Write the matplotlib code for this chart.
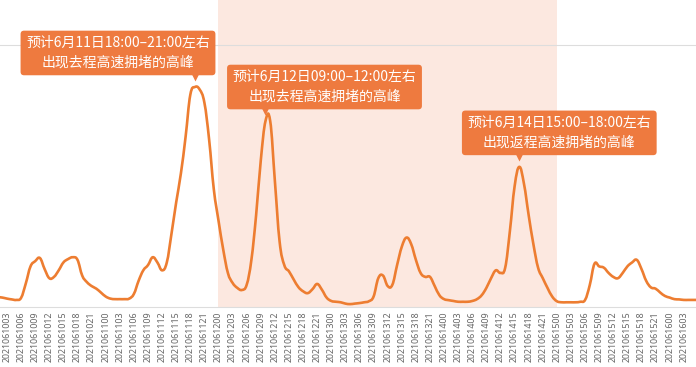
import numpy as np
import pandas as pd
import matplotlib
matplotlib.use('Agg')
import matplotlib.pyplot as plt
from matplotlib.path import Path
from matplotlib.patches import PathPatch
from matplotlib.transforms import offset_copy

plt.rcParams['font.family'] = ['Noto Sans CJK SC', 'DejaVu Sans']

# hourly traffic index, 2021-06-10 01:00 onwards
values = [
    3.8, 3.6, 3.2, 2.9, 2.7, 3.5, 9.0, 15.5, 17.5, 18.7,
    14.5, 11.0, 11.5, 14.0, 17.0, 18.3, 19.0, 18.0, 12.0, 9.5,
    8.0, 7.0, 5.5, 4.0, 3.2, 3.0, 3.0, 3.0, 3.2, 5.0,
    10.0, 14.0, 16.0, 19.0, 17.0, 14.0, 17.0, 28.0, 40.0, 51.0,
    65.0, 81.0, 84.0, 83.0, 78.0, 64.0, 45.0, 33.0, 22.0, 13.0,
    9.2, 7.3, 6.5, 8.5, 18.0, 35.0, 56.0, 71.0, 71.0, 48.0,
    25.0, 16.0, 13.6, 10.5, 7.6, 6.0, 5.3, 6.8, 8.8, 6.6,
    3.6, 2.3, 2.0, 1.8, 1.3, 1.1, 1.3, 1.5, 1.8, 2.2,
    4.0, 11.0, 12.0, 8.0, 8.5, 16.0, 23.0, 26.5, 24.0, 18.0,
    13.0, 11.5, 11.5, 8.0, 4.5, 3.0, 2.6, 2.3, 2.0, 2.0,
    2.0, 2.3, 3.0, 4.5, 7.3, 11.0, 14.0, 13.0, 15.0, 29.0,
    46.0, 53.5, 47.0, 35.0, 24.0, 15.0, 11.0, 7.3, 4.0, 2.2,
    1.8, 1.8, 1.8, 1.8, 2.0, 2.7, 8.4, 16.5, 15.5, 15.0,
    13.0, 11.5, 11.0, 13.0, 15.5, 17.0, 18.0, 14.5, 10.0, 7.5,
    7.0, 5.5, 4.2, 3.6, 3.0, 2.9, 2.7, 2.7, 2.7, 2.7,
]
times = pd.date_range('2021-06-10 01:00', periods=len(values), freq='h')
labels = times.strftime('%Y%m%d%H')

first_label = '2021061003'
last_label = '2021061603'
holiday_start = '2021061200'
holiday_end = '2021061500'

notes = [
    ('2021061119', '预计6月11日18:00–21:00左右\n出现去程高速拥堵的高峰', -77),
    ('2021061210', '预计6月12日09:00–12:00左右\n出现去程高速拥堵的高峰', 59),
    ('2021061416', '预计6月14日15:00–18:00左右\n出现返程高速拥堵的高峰', 40),
]

line_color = '#ED7D31'
box_color = '#EE7A3F'


def smooth_path(xs, ys, k=0.2):
    # bezier curve through the points (like a "smooth" line series)
    pts = np.column_stack([xs, ys]).astype(float)
    verts = [pts[0]]
    codes = [Path.MOVETO]
    n = len(pts)
    for i in range(n - 1):
        p0 = pts[max(i - 1, 0)]
        p1 = pts[i]
        p2 = pts[i + 1]
        p3 = pts[min(i + 2, n - 1)]
        c1 = p1 + (p2 - p0) * k
        c2 = p2 - (p3 - p1) * k
        verts += [c1, c2, p2]
        codes += [Path.CURVE4] * 3
    return Path(verts, codes)


fig = plt.figure(figsize=(6.96, 3.67), dpi=100)
ax = fig.add_axes([0, 60 / 367, 1, 307 / 367])

x = np.arange(len(values))
pos = {lab: i for i, lab in enumerate(labels)}

ax.axvspan(pos[holiday_start], pos[holiday_end], color='#FCE8E0', lw=0, zorder=0)
ax.axhline(100, color='#DDDDDD', lw=0.8, zorder=1)
ax.add_patch(PathPatch(smooth_path(x, values), fc='none', ec=line_color,
                       lw=1.9, joinstyle='round', zorder=3))

ax.set_xlim(0.51, 148.6)
ax.set_ylim(0, 117.2)

tick_idx = list(range(pos[first_label], pos[last_label] + 1, 3))
ax.set_xticks(tick_idx)
ax.set_xticklabels([labels[i] for i in tick_idx], rotation=90,
                   fontsize=6.4, color='#666666', family=['Noto Sans', 'DejaVu Sans'])
ax.tick_params(axis='x', length=0, pad=3)
ax.set_yticks([])
for s in ['top', 'right', 'left']:
    ax.spines[s].set_visible(False)
ax.spines['bottom'].set_color('#DDDDDD')
ax.spines['bottom'].set_linewidth(0.8)

tri = offset_copy(ax.transData, fig=fig, x=0, y=11, units='dots')
for key, text, dx in notes:
    i = pos[key]
    v = values[i]
    ax.plot([i], [v], marker='v', ms=7.5, color=box_color, mec='none',
            transform=tri, clip_on=False, zorder=5)
    ax.annotate(text, xy=(i, v), xytext=(dx, 34), textcoords='offset pixels',
                ha='center', va='center', color='white', fontsize=10,
                linespacing=1.5, zorder=6, annotation_clip=False,
                bbox=dict(boxstyle='round,pad=0.4,rounding_size=0.25',
                          fc=box_color, ec='none'))

fig.savefig('out.png', dpi=100)
